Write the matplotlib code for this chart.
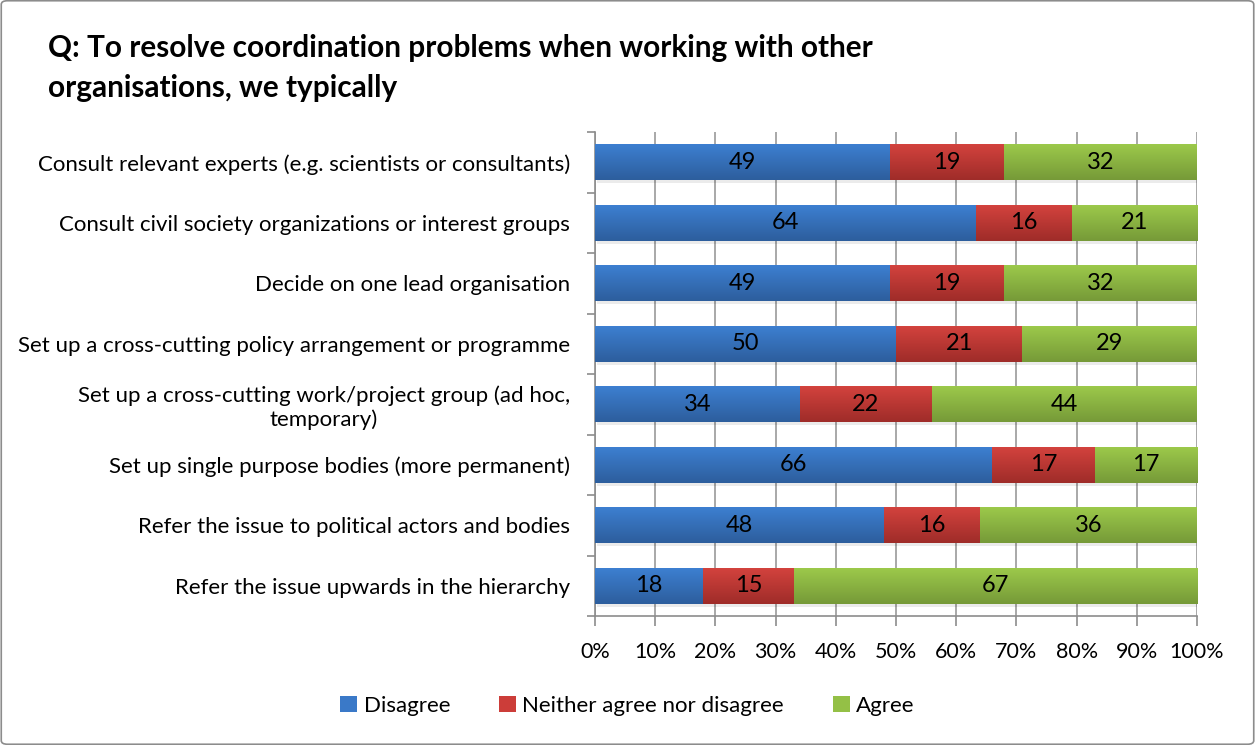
import numpy as np
import matplotlib
matplotlib.use('Agg')
import matplotlib.pyplot as plt
from matplotlib.patches import FancyBboxPatch
from matplotlib.colors import LinearSegmentedColormap

plt.rcParams['font.family'] = ['Lato', 'DejaVu Sans']

# data (top to bottom)
categories = [
    'Consult relevant experts (e.g. scientists or consultants)',
    'Consult civil society organizations or interest groups',
    'Decide on one lead organisation',
    'Set up a cross-cutting policy arrangement or programme',
    'Set up a cross-cutting work/project group (ad hoc,\ntemporary)',
    'Set up single purpose bodies (more permanent)',
    'Refer the issue to political actors and bodies',
    'Refer the issue upwards in the hierarchy',
]
disagree = [49, 64, 49, 50, 34, 66, 48, 18]
neither = [19, 16, 19, 21, 22, 17, 16, 15]
agree = [32, 21, 32, 29, 44, 17, 36, 67]
series_names = ['Disagree', 'Neither agree nor disagree', 'Agree']
colors = ['#3a79c8', '#cc3d39', '#94c046']
grad_top = ['#3d80d2', '#d4433e', '#9dca4b']
grad_bot = ['#2d5e9d', '#9f2c29', '#769a38']

title = 'Q: To resolve coordination problems when working with other\norganisations, we typically'

fig = plt.figure(figsize=(12.55, 7.45), dpi=100)
fig.patches.append(FancyBboxPatch((0.001, 0.001), 0.998, 0.998, boxstyle='round,pad=0,rounding_size=0.005',
                                  transform=fig.transFigure, fill=False, edgecolor='#8c8c8c', linewidth=1.2))

ax = fig.add_axes([595 / 1255, 1 - 616 / 745, (1197 - 595) / 1255, (616 - 132) / 745])

data = np.array([disagree, neither, agree], dtype=float)
pct = data / data.sum(axis=0) * 100
n = len(categories)
y = np.arange(n)[::-1]
left = np.zeros(n)
grad = np.linspace(0, 1, 64).reshape(-1, 1)
for i in range(3):
    # soft shadow under the bars
    ax.barh(y - 0.05, pct[i], left=left + 0.25, height=0.6, color='#000000', alpha=0.08,
            edgecolor='none', zorder=2)
    bars = ax.barh(y, pct[i], left=left, height=0.6, color=colors[i], edgecolor='none', zorder=3,
                   label=series_names[i])
    cmap = LinearSegmentedColormap.from_list(f'g{i}', [grad_bot[i], grad_top[i]])
    for b in bars:
        x0, y0 = b.get_x(), b.get_y()
        im = ax.imshow(grad, cmap=cmap, aspect='auto', origin='lower', zorder=3.1,
                       extent=(x0, x0 + b.get_width(), y0, y0 + b.get_height()))
        im.set_clip_path(b)
    for yy, l, w, v in zip(y, left, pct[i], data[i]):
        ax.text(l + w / 2, yy, f'{int(v)}', ha='center', va='center', fontsize=17, color='black', zorder=4)
    left += pct[i]

ax.set_xlim(0, 100)
ax.set_ylim(-0.5, n - 0.5)
ax.set_xticks(np.arange(0, 101, 10))
ax.set_xticklabels([f'{v}%' for v in range(0, 101, 10)], fontsize=15.5)
ax.set_yticks(y)
ax.set_yticklabels(categories, fontsize=16, multialignment='center')
ax.set_yticks(np.arange(-0.5, n, 1), minor=True)
ax.tick_params(axis='y', which='major', length=0, pad=18)
ax.tick_params(axis='y', which='minor', length=6, color='#8c8c8c', width=1.2)
ax.tick_params(axis='x', length=7, color='#8c8c8c', width=1.2, pad=12)
ax.grid(axis='x', color='#9a9a9a', linewidth=1.2, zorder=0)
for s in ['top', 'right']:
    ax.spines[s].set_visible(False)
for s in ['left', 'bottom']:
    ax.spines[s].set_color('#8c8c8c')
    ax.spines[s].set_linewidth(1.2)

fig.text(48 / 1255, 1 - 68 / 745, title, fontsize=21.4, fontweight='bold', ha='left', va='center',
         linespacing=1.5)

handles, labels = ax.get_legend_handles_labels()
fig.legend(handles, labels, loc='center', bbox_to_anchor=(0.5, 1 - 706 / 745), ncol=3, frameon=False,
           fontsize=16, handlelength=0.75, handleheight=0.75, handletextpad=0.3, columnspacing=2.2)

plt.savefig('out.png', dpi=100)
plt.close()
